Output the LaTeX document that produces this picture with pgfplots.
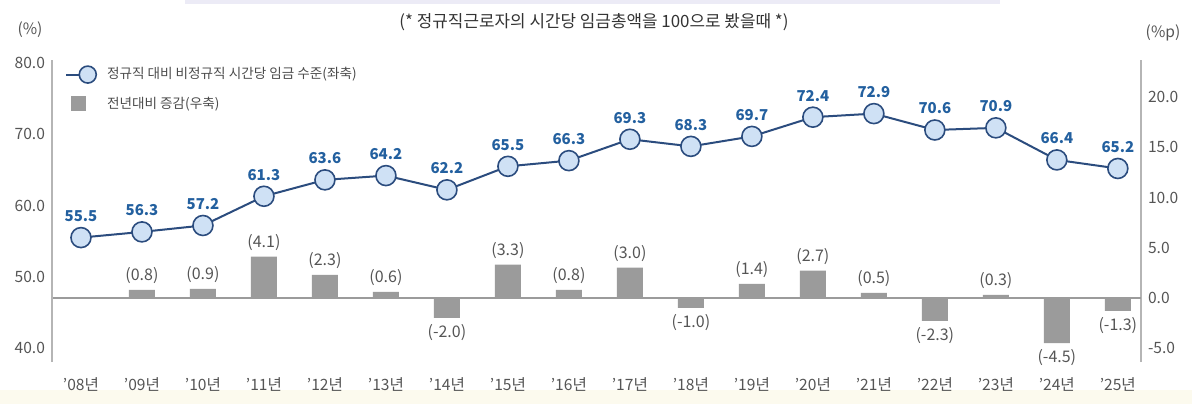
\documentclass[border=0pt]{standalone}
\usepackage{fontspec}
\setmainfont{Noto Sans CJK KR}
\usepackage{pgfplots}
\pgfplotsset{compat=1.18}
\definecolor{linec}{HTML}{2B4C7E}
\definecolor{markf}{HTML}{CFE1F5}
\definecolor{labc}{HTML}{23609F}
\definecolor{barc}{HTML}{9B9B9B}
\definecolor{axc}{HTML}{B5B5B5}
\definecolor{txt}{HTML}{555555}
\definecolor{cream}{HTML}{FCFAEE}
\definecolor{lav}{HTML}{ECEBF6}
\begin{document}
\begin{tikzpicture}
\path[use as bounding box] (0,0) rectangle (596pt,202pt);
\fill[cream] (0,0) rectangle (596pt,7pt);
\fill[lav] (92.5pt,200pt) rectangle (500pt,202pt);
\node[font=\fontsize{8.45}{10}\selectfont, text=black!80] at (297pt,191pt) {(* 정규직근로자의 시간당 임금총액을 100으로 봤을때 *)};
\node[font=\fontsize{7.8}{9}\selectfont, text=txt] at (15pt,187pt) {(\%)};
\node[font=\fontsize{7.8}{9}\selectfont, text=txt] at (581.5pt,185.5pt) {(\%p)};
\pgfplotsset{base/.style={scale only axis, width=544.5pt, height=151pt, at={(26pt,21pt)}, anchor=south west,
  xmin=-0.475, xmax=17.38,
  /pgf/number format/assume math mode=true,
  tick style={draw=none},
  ticklabel style={font=\fontsize{7.8}{9}\selectfont, text=txt},
  axis line style={axc, line width=0.75pt}}}
\begin{axis}[base, ymin=-6.39, ymax=23.69,
  axis y line*=right, axis x line*=bottom, x axis line style={draw=none},
  ytick={-5,0,5,10,15,20},
  yticklabel style={/pgf/number format/.cd, fixed, fixed zerofill, precision=1},
  xtick={0,...,17},
  xticklabels={'08년,'09년,'10년,'11년,'12년,'13년,'14년,'15년,'16년,'17년,'18년,'19년,'20년,'21년,'22년,'23년,'24년,'25년},
  ybar, bar width=13pt,
  nodes near coords={(\pgfmathprintnumber[fixed,fixed zerofill,precision=1,assume math mode=true]{\pgfplotspointmeta})},
  nodes near coords align={vertical},
  every node near coord/.append style={font=\fontsize{8}{9}\selectfont, text=txt, inner sep=3pt}]
\draw[barc, line width=0.75pt] (axis cs:-0.475,0) -- (axis cs:17.38,0);
\addplot[fill=barc, draw=none] coordinates {
(1,0.8) (2,0.9) (3,4.1) (4,2.3) (5,0.6) (6,-2.0) (7,3.3) (8,0.8) (9,3.0)
(10,-1.0) (11,1.4) (12,2.7) (13,0.5) (14,-2.3) (15,0.3) (16,-4.5) (17,-1.3)};
\end{axis}
\begin{axis}[base, ymin=38.04, ymax=80.42,
  axis y line*=left, axis x line=none,
  ytick={40,50,60,70,80},
  yticklabel style={/pgf/number format/.cd, fixed, fixed zerofill, precision=1},
  legend style={draw=none, fill=none, at={(0.012,0.99)}, anchor=north west,
    font=\fontsize{6.8}{8}\selectfont, text=black!70, row sep=3.5pt, inner sep=0pt,
    nodes={inner xsep=5pt}},
  legend cell align=left]
\addplot[linec, line width=1pt, mark=*, mark size=5pt,
  mark options={fill=markf, draw=linec, line width=0.8pt},
  nodes near coords={\pgfmathprintnumber[fixed,fixed zerofill,precision=1,assume math mode=true]{\pgfplotspointmeta}},
  every node near coord/.append style={font=\fontsize{7.5}{9}\selectfont\bfseries, text=labc, anchor=south, yshift=7.5pt, inner sep=0pt},
  legend image code/.code={\draw[linec, line width=1pt] (0pt,0pt) -- (12pt,0pt);
    \node[circle, draw=linec, fill=markf, line width=0.8pt, inner sep=0pt, minimum size=8.5pt] at (6pt,0pt) {};}]
coordinates {
(0,55.5) (1,56.3) (2,57.2) (3,61.3) (4,63.6) (5,64.2) (6,62.2) (7,65.5) (8,66.3)
(9,69.3) (10,68.3) (11,69.7) (12,72.4) (13,72.9) (14,70.6) (15,70.9) (16,66.4) (17,65.2)};
\addlegendentry{정규직 대비 비정규직 시간당 임금 수준(좌축)}
\addlegendimage{legend image code/.code={\fill[barc] (2.5pt,-3.5pt) rectangle (9.5pt,3.5pt);}}
\addlegendentry{전년대비 증감(우축)}
\end{axis}
\end{tikzpicture}
\end{document}
